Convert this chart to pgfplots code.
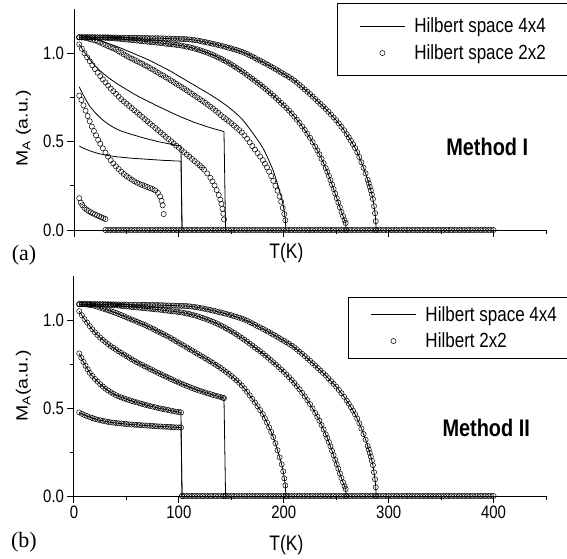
\documentclass[border=0pt]{standalone}
\usepackage{pgfplots}
\pgfplotsset{compat=1.18}
\usepackage{pgfplotstable}
\usepackage{graphicx}
\usepackage{fontspec}
\setmainfont{Liberation Sans}[FakeStretch=0.83]
\newfontfamily\rotfont{Liberation Sans}
\newfontfamily\serifab{Liberation Serif}

% 4x4 curves (lines); in Method II the 2x2 circles lie on them
\pgfplotstableread[row sep=\\]{
T M\\
5 0.475\\ 7.5 0.467\\ 10 0.460\\ 12.5 0.454\\ 15 0.448\\ 17.5 0.443\\ 20 0.438\\ 22.5 0.434\\
25 0.430\\ 27.5 0.427\\ 30 0.424\\ 32.5 0.421\\ 35 0.419\\ 37.5 0.417\\ 40 0.415\\ 42.5 0.413\\
45 0.412\\ 47.5 0.410\\ 50 0.409\\ 52.5 0.407\\ 55 0.406\\ 57.5 0.405\\ 60 0.404\\ 62.5 0.403\\
65 0.402\\ 67.5 0.401\\ 70 0.400\\ 72.5 0.399\\ 75 0.398\\ 77.5 0.397\\ 80 0.396\\ 82.5 0.395\\
85 0.394\\ 87.5 0.393\\ 90 0.393\\ 92.5 0.392\\ 95 0.391\\ 97.5 0.390\\ 100 0.390\\ 102 0.389\\
103 0\\
}\la
\pgfplotstableread[row sep=\\]{
T M\\
5 0.81\\ 7 0.785\\ 9 0.762\\ 11 0.74\\ 13 0.72\\ 15 0.70\\ 17.5 0.682\\ 20 0.665\\ 22.5 0.65\\
25 0.635\\ 27.5 0.622\\ 30 0.61\\ 32.5 0.60\\ 35 0.59\\ 37.5 0.581\\ 40 0.573\\ 42.5 0.566\\
45 0.56\\ 47.5 0.555\\ 50 0.55\\ 52.5 0.545\\ 55 0.54\\ 57.5 0.536\\ 60 0.532\\ 62.5 0.527\\
65 0.523\\ 67.5 0.519\\ 70 0.515\\ 72.5 0.511\\ 75 0.508\\ 77.5 0.504\\ 80 0.50\\ 82.5 0.497\\
85 0.494\\ 87.5 0.491\\ 90 0.488\\ 92.5 0.485\\ 95 0.482\\ 97.5 0.479\\ 100 0.477\\ 102 0.475\\
103 0\\
}\lb
\pgfplotstableread[row sep=\\]{
T M\\
5 1.05\\ 7.5 1.027\\ 10 1.005\\ 12.5 0.985\\ 15 0.965\\ 17.5 0.947\\ 20 0.93\\ 22.5 0.915\\
25 0.90\\ 27.5 0.887\\ 30 0.875\\ 32.5 0.863\\ 35 0.852\\ 37.5 0.842\\ 40 0.832\\ 42.5 0.822\\
45 0.813\\ 47.5 0.804\\ 50 0.795\\ 52.5 0.786\\ 55 0.777\\ 57.5 0.768\\ 60 0.76\\ 62.5 0.752\\
65 0.745\\ 67.5 0.737\\ 70 0.73\\ 72.5 0.722\\ 75 0.715\\ 77.5 0.707\\ 80 0.70\\ 82.5 0.693\\
85 0.686\\ 87.5 0.679\\ 90 0.672\\ 92.5 0.665\\ 95 0.658\\ 97.5 0.651\\ 100 0.645\\ 102.5 0.638\\
105 0.632\\ 107.5 0.626\\ 110 0.62\\ 112.5 0.614\\ 115 0.608\\ 117.5 0.603\\ 120 0.598\\ 122.5 0.593\\
125 0.588\\ 127.5 0.583\\ 130 0.579\\ 132.5 0.574\\ 135 0.57\\ 137.5 0.566\\ 140 0.562\\ 142 0.558\\
143 0.556\\ 144.5 0\\
}\lc
\pgfplotstableread[row sep=\\]{
T M\\
5 1.09\\ 7.5 1.09\\ 10 1.09\\ 12.5 1.088\\ 15 1.085\\ 17.5 1.083\\ 20 1.08\\ 22.5 1.075\\
25 1.07\\ 27.5 1.065\\ 30 1.06\\ 32.5 1.055\\ 35 1.05\\ 37.5 1.045\\ 40 1.04\\ 42.5 1.034\\
45 1.028\\ 47.5 1.022\\ 50 1.015\\ 52.5 1.009\\ 55 1.003\\ 57.5 0.997\\ 60 0.99\\ 62.5 0.984\\
65 0.978\\ 67.5 0.972\\ 70 0.965\\ 72.5 0.958\\ 75 0.95\\ 77.5 0.943\\ 80 0.935\\ 82.5 0.928\\
85 0.92\\ 87.5 0.913\\ 90 0.905\\ 92.5 0.897\\ 95 0.888\\ 97.5 0.879\\ 100 0.87\\ 102.5 0.862\\
105 0.853\\ 107.5 0.844\\ 110 0.835\\ 112.5 0.827\\ 115 0.818\\ 117.5 0.809\\ 120 0.80\\ 122.5 0.792\\
125 0.783\\ 127.5 0.774\\ 130 0.765\\ 132.5 0.756\\ 135 0.746\\ 137.5 0.737\\ 140 0.727\\ 142.5 0.716\\
145 0.705\\ 147.5 0.694\\ 150 0.682\\ 152.5 0.67\\ 155 0.657\\ 157.5 0.643\\ 160 0.628\\ 162.5 0.611\\
165 0.592\\ 167.5 0.572\\ 170 0.552\\ 172.5 0.531\\ 175 0.51\\ 177.5 0.488\\ 180 0.465\\ 182 0.442\\
184 0.417\\ 186 0.39\\ 188 0.364\\ 190 0.335\\ 192 0.30\\ 194 0.26\\ 196 0.22\\ 198 0.18\\
199.5 0.14\\ 200.5 0.10\\ 201.5 0.06\\ 202 0\\
}\ld
\pgfplotstableread[row sep=\\]{
T M\\
5 1.09\\ 7.5 1.09\\ 10 1.09\\ 12.5 1.09\\ 15 1.09\\ 17.5 1.09\\ 20 1.089\\ 22.5 1.089\\
25 1.088\\ 27.5 1.088\\ 30 1.087\\ 32.5 1.086\\ 35 1.085\\ 37.5 1.084\\ 40 1.083\\ 42.5 1.082\\
45 1.08\\ 47.5 1.079\\ 50 1.077\\ 52.5 1.076\\ 55 1.074\\ 57.5 1.073\\ 60 1.071\\ 62.5 1.07\\
65 1.068\\ 67.5 1.067\\ 70 1.065\\ 72.5 1.064\\ 75 1.062\\ 77.5 1.061\\ 80 1.059\\ 82.5 1.058\\
85 1.056\\ 87.5 1.054\\ 90 1.052\\ 92.5 1.051\\ 95 1.049\\ 97.5 1.047\\ 100 1.045\\ 102.5 1.043\\
105 1.04\\ 107.5 1.037\\ 110 1.034\\ 112.5 1.03\\ 115 1.026\\ 117.5 1.022\\ 120 1.017\\ 122.5 1.012\\
125 1.007\\ 127.5 1.002\\ 130 0.996\\ 132.5 0.99\\ 135 0.983\\ 137.5 0.976\\ 140 0.969\\ 142.5 0.961\\
145 0.953\\ 147.5 0.945\\ 150 0.936\\ 152.5 0.927\\ 155 0.918\\ 157.5 0.908\\ 160 0.898\\ 162.5 0.888\\
165 0.877\\ 167.5 0.866\\ 170 0.855\\ 172.5 0.844\\ 175 0.833\\ 177.5 0.822\\ 180 0.81\\ 182.5 0.798\\
185 0.786\\ 187.5 0.773\\ 190 0.76\\ 192.5 0.747\\ 195 0.733\\ 197.5 0.719\\ 200 0.705\\ 202.5 0.69\\
205 0.675\\ 207.5 0.659\\ 210 0.642\\ 212.5 0.624\\ 215 0.606\\ 217.5 0.586\\ 220 0.566\\ 222.5 0.544\\
225 0.522\\ 227.5 0.497\\ 230 0.472\\ 232 0.45\\ 234 0.428\\ 236 0.403\\ 238 0.378\\ 240 0.35\\
241.5 0.329\\ 243 0.306\\ 244.5 0.282\\ 246 0.257\\ 247.5 0.232\\ 249 0.206\\ 250.5 0.18\\ 252 0.155\\
253.5 0.128\\ 255 0.102\\ 256.5 0.078\\ 258 0.055\\ 259 0.04\\ 259.5 0\\
}\le
\pgfplotstableread[row sep=\\]{
T M\\
5 1.09\\ 7.5 1.09\\ 10 1.09\\ 12.5 1.09\\ 15 1.09\\ 17.5 1.09\\ 20 1.09\\ 22.5 1.09\\
25 1.09\\ 27.5 1.09\\ 30 1.09\\ 32.5 1.09\\ 35 1.089\\ 37.5 1.089\\ 40 1.089\\ 42.5 1.088\\
45 1.088\\ 47.5 1.088\\ 50 1.088\\ 52.5 1.087\\ 55 1.087\\ 57.5 1.087\\ 60 1.087\\ 62.5 1.086\\
65 1.086\\ 67.5 1.086\\ 70 1.086\\ 72.5 1.085\\ 75 1.085\\ 77.5 1.085\\ 80 1.085\\ 82.5 1.084\\
85 1.084\\ 87.5 1.083\\ 90 1.083\\ 92.5 1.082\\ 95 1.082\\ 97.5 1.081\\ 100 1.081\\ 102.5 1.08\\
105 1.08\\ 107.5 1.079\\ 110 1.078\\ 112.5 1.076\\ 115 1.074\\ 117.5 1.072\\ 120 1.069\\ 122.5 1.066\\
125 1.063\\ 127.5 1.06\\ 130 1.057\\ 132.5 1.053\\ 135 1.05\\ 137.5 1.046\\ 140 1.043\\ 142.5 1.039\\
145 1.035\\ 147.5 1.031\\ 150 1.027\\ 152.5 1.022\\ 155 1.018\\ 157.5 1.013\\ 160 1.008\\ 162.5 1.002\\
165 0.996\\ 167.5 0.988\\ 170 0.981\\ 172.5 0.973\\ 175 0.965\\ 177.5 0.958\\ 180 0.95\\ 182.5 0.942\\
185 0.934\\ 187.5 0.926\\ 190 0.917\\ 192.5 0.909\\ 195 0.90\\ 197.5 0.891\\ 200 0.882\\ 202.5 0.874\\
205 0.865\\ 207.5 0.855\\ 210 0.845\\ 212.5 0.833\\ 215 0.82\\ 217.5 0.808\\ 220 0.795\\ 222.5 0.782\\
225 0.769\\ 227.5 0.755\\ 230 0.741\\ 232.5 0.727\\ 235 0.713\\ 237.5 0.699\\ 240 0.685\\ 242.5 0.669\\
245 0.653\\ 247.5 0.637\\ 250 0.621\\ 252.5 0.603\\ 255 0.584\\ 257.5 0.564\\ 260 0.542\\ 262 0.524\\
264 0.505\\ 266 0.485\\ 268 0.464\\ 270 0.44\\ 272 0.413\\ 274 0.383\\ 276 0.352\\ 278 0.32\\
280 0.284\\ 281 0.265\\ 282 0.245\\ 283 0.224\\ 284 0.2\\ 285 0.175\\ 286 0.135\\ 287 0.095\\
287.7 0.05\\ 288 0\\
}\lf

% Method I, 2x2 circles that leave the lines
\pgfplotstableread[row sep=\\]{
T M\\
5 0.18\\ 6.5 0.155\\ 8 0.14\\ 10 0.125\\ 12 0.115\\ 14 0.107\\ 16 0.100\\ 18 0.094\\
20 0.088\\ 22 0.083\\ 24 0.078\\ 26 0.072\\ 28 0.067\\ 30 0.062\\
}\ca
\pgfplotstableread[row sep=\\]{
T M\\
5 0.76\\ 7 0.735\\ 9 0.705\\ 11 0.675\\ 13 0.645\\ 15 0.615\\ 17 0.585\\ 19 0.56\\
21 0.535\\ 23 0.51\\ 25 0.488\\ 27.5 0.462\\ 30 0.438\\ 32.5 0.415\\ 35 0.395\\ 37.5 0.377\\
40 0.36\\ 42.5 0.345\\ 45 0.33\\ 47.5 0.317\\ 50 0.305\\ 52.5 0.295\\ 55 0.285\\ 57.5 0.276\\
60 0.268\\ 62.5 0.261\\ 65 0.255\\ 67.5 0.249\\ 70 0.243\\ 72.5 0.237\\ 75 0.232\\ 77.5 0.224\\
80 0.21\\ 82 0.19\\ 83.5 0.165\\ 84.5 0.14\\ 85.5 0.09\\
}\cb
\pgfplotstableread[row sep=\\]{
T M\\
5 1.05\\ 7.5 1.025\\ 10 1.0\\ 12.5 0.977\\ 15 0.955\\ 17.5 0.932\\ 20 0.91\\ 22.5 0.89\\
25 0.87\\ 27.5 0.852\\ 30 0.835\\ 32.5 0.817\\ 35 0.80\\ 37.5 0.785\\ 40 0.77\\ 42.5 0.755\\
45 0.74\\ 47.5 0.727\\ 50 0.715\\ 52.5 0.702\\ 55 0.69\\ 57.5 0.677\\ 60 0.665\\ 62.5 0.652\\
65 0.64\\ 67.5 0.627\\ 70 0.615\\ 72.5 0.602\\ 75 0.59\\ 77.5 0.577\\ 80 0.565\\ 82.5 0.552\\
85 0.54\\ 87.5 0.527\\ 90 0.515\\ 92.5 0.502\\ 95 0.49\\ 97.5 0.477\\ 100 0.465\\ 102.5 0.452\\
105 0.44\\ 107.5 0.427\\ 110 0.415\\ 112.5 0.402\\ 115 0.39\\ 117.5 0.377\\ 120 0.365\\ 122 0.354\\
124 0.342\\ 127 0.32\\ 130 0.295\\ 132 0.275\\ 134 0.252\\ 136 0.226\\ 138 0.198\\ 139.5 0.172\\
140.5 0.148\\ 141.5 0.12\\ 142.3 0.092\\ 143 0.06\\
}\cc
\pgfplotstableread[row sep=\\]{
T M\\
5 1.09\\ 7.5 1.089\\ 10 1.088\\ 12.5 1.084\\ 15 1.08\\ 17.5 1.076\\ 20 1.072\\ 22.5 1.066\\
25 1.06\\ 27.5 1.053\\ 30 1.047\\ 32.5 1.04\\ 35 1.034\\ 37.5 1.027\\ 40 1.02\\ 42.5 1.011\\
45 1.003\\ 47.5 0.994\\ 50 0.985\\ 52.5 0.977\\ 55 0.97\\ 57.5 0.962\\ 60 0.955\\ 62.5 0.947\\
65 0.94\\ 67.5 0.932\\ 70 0.925\\ 72.5 0.916\\ 75 0.908\\ 77.5 0.899\\ 80 0.89\\ 82.5 0.881\\
85 0.873\\ 87.5 0.864\\ 90 0.855\\ 92.5 0.846\\ 95 0.837\\ 97.5 0.827\\ 100 0.818\\ 102.5 0.809\\
105 0.80\\ 107.5 0.79\\ 110 0.78\\ 112.5 0.77\\ 115 0.76\\ 117.5 0.75\\ 120 0.74\\ 122.5 0.73\\
125 0.72\\ 127.5 0.709\\ 130 0.698\\ 132.5 0.687\\ 135 0.675\\ 137.5 0.663\\ 140 0.65\\ 142.5 0.638\\
145 0.627\\ 147.5 0.616\\ 150 0.604\\ 152.5 0.591\\ 155 0.578\\ 157.5 0.565\\ 160 0.552\\ 162.5 0.535\\
165 0.516\\ 167.5 0.496\\ 170 0.475\\ 172.5 0.455\\ 175 0.435\\ 177.5 0.415\\ 180 0.395\\ 182 0.375\\
184 0.354\\ 186 0.33\\ 188 0.305\\ 190 0.278\\ 192 0.25\\ 194 0.222\\ 196 0.19\\ 197.5 0.16\\
199 0.125\\ 200.5 0.09\\ 201.5 0.055\\
}\cd

% circles lying on the T axis
\pgfplotstableread[row sep=\\]{
T M\\
30 0\\ 32.5 0\\ 35 0\\ 37.5 0\\ 40 0\\ 42.5 0\\ 45 0\\ 47.5 0\\ 50 0\\ 52.5 0\\
55 0\\ 57.5 0\\ 60 0\\ 62.5 0\\ 65 0\\ 67.5 0\\ 70 0\\ 72.5 0\\ 75 0\\ 77.5 0\\
80 0\\ 82.5 0\\ 85 0\\ 87.5 0\\ 90 0\\ 92.5 0\\ 95 0\\ 97.5 0\\ 100 0\\ 102.5 0\\
105 0\\ 107.5 0\\ 110 0\\ 112.5 0\\ 115 0\\ 117.5 0\\ 120 0\\ 122.5 0\\ 125 0\\ 127.5 0\\
130 0\\ 132.5 0\\ 135 0\\ 137.5 0\\ 140 0\\ 142.5 0\\ 145 0\\ 147.5 0\\ 150 0\\ 152.5 0\\
155 0\\ 157.5 0\\ 160 0\\ 162.5 0\\ 165 0\\ 167.5 0\\ 170 0\\ 172.5 0\\ 175 0\\ 177.5 0\\
180 0\\ 182.5 0\\ 185 0\\ 187.5 0\\ 190 0\\ 192.5 0\\ 195 0\\ 197.5 0\\ 200 0\\ 202.5 0\\
205 0\\ 207.5 0\\ 210 0\\ 212.5 0\\ 215 0\\ 217.5 0\\ 220 0\\ 222.5 0\\ 225 0\\ 227.5 0\\
230 0\\ 232.5 0\\ 235 0\\ 237.5 0\\ 240 0\\ 242.5 0\\ 245 0\\ 247.5 0\\ 250 0\\ 252.5 0\\
255 0\\ 257.5 0\\ 260 0\\ 262.5 0\\ 265 0\\ 267.5 0\\ 270 0\\ 272.5 0\\ 275 0\\ 277.5 0\\
280 0\\ 282.5 0\\ 285 0\\ 287.5 0\\ 290 0\\ 292.5 0\\ 295 0\\ 297.5 0\\ 300 0\\ 302.5 0\\
305 0\\ 307.5 0\\ 310 0\\ 312.5 0\\ 315 0\\ 317.5 0\\ 320 0\\ 322.5 0\\ 325 0\\ 327.5 0\\
330 0\\ 332.5 0\\ 335 0\\ 337.5 0\\ 340 0\\ 342.5 0\\ 345 0\\ 347.5 0\\ 350 0\\ 352.5 0\\
355 0\\ 357.5 0\\ 360 0\\ 362.5 0\\ 365 0\\ 367.5 0\\ 370 0\\ 372.5 0\\ 375 0\\ 377.5 0\\
380 0\\ 382.5 0\\ 385 0\\ 387.5 0\\ 390 0\\ 392.5 0\\ 395 0\\ 397.5 0\\ 400 0\\
}\zeroa
\pgfplotstableread[row sep=\\]{
T M\\
105 0\\ 107.5 0\\ 110 0\\ 112.5 0\\ 115 0\\ 117.5 0\\ 120 0\\ 122.5 0\\ 125 0\\ 127.5 0\\
130 0\\ 132.5 0\\ 135 0\\ 137.5 0\\ 140 0\\ 142.5 0\\ 145 0\\ 147.5 0\\ 150 0\\ 152.5 0\\
155 0\\ 157.5 0\\ 160 0\\ 162.5 0\\ 165 0\\ 167.5 0\\ 170 0\\ 172.5 0\\ 175 0\\ 177.5 0\\
180 0\\ 182.5 0\\ 185 0\\ 187.5 0\\ 190 0\\ 192.5 0\\ 195 0\\ 197.5 0\\ 200 0\\ 202.5 0\\
205 0\\ 207.5 0\\ 210 0\\ 212.5 0\\ 215 0\\ 217.5 0\\ 220 0\\ 222.5 0\\ 225 0\\ 227.5 0\\
230 0\\ 232.5 0\\ 235 0\\ 237.5 0\\ 240 0\\ 242.5 0\\ 245 0\\ 247.5 0\\ 250 0\\ 252.5 0\\
255 0\\ 257.5 0\\ 260 0\\ 262.5 0\\ 265 0\\ 267.5 0\\ 270 0\\ 272.5 0\\ 275 0\\ 277.5 0\\
280 0\\ 282.5 0\\ 285 0\\ 287.5 0\\ 290 0\\ 292.5 0\\ 295 0\\ 297.5 0\\ 300 0\\ 302.5 0\\
305 0\\ 307.5 0\\ 310 0\\ 312.5 0\\ 315 0\\ 317.5 0\\ 320 0\\ 322.5 0\\ 325 0\\ 327.5 0\\
330 0\\ 332.5 0\\ 335 0\\ 337.5 0\\ 340 0\\ 342.5 0\\ 345 0\\ 347.5 0\\ 350 0\\ 352.5 0\\
355 0\\ 357.5 0\\ 360 0\\ 362.5 0\\ 365 0\\ 367.5 0\\ 370 0\\ 372.5 0\\ 375 0\\ 377.5 0\\
380 0\\ 382.5 0\\ 385 0\\ 387.5 0\\ 390 0\\ 392.5 0\\ 395 0\\ 397.5 0\\ 400 0\\
}\zerob

\pgfplotsset{
  panel/.style={
    scale only axis, width=472pt,
    xmin=0, xmax=450, ymin=0, ymax=1.25,
    axis lines=left, axis line style={-, line width=1pt},
    xtick={0,100,200,300,400}, minor xtick={50,150,250,350,450},
    ytick={0,0.5,1}, minor ytick={0.25,0.75},
    tick align=outside, major tick length=6.5pt, minor tick length=4pt,
    tick style={black, line width=1pt},
    yticklabel style={/pgf/number format/fixed, /pgf/number format/fixed zerofill, /pgf/number format/precision=1},
    /pgf/number format/assume math mode=true,
    tick label style={font=\fontsize{18}{18}\selectfont},
    clip=false, legend cell align=left,
  },
  ln/.style={black, line width=0.8pt, no markers},
  cir/.style={only marks, mark=o, mark size=2.6pt, mark options={black, line width=0.5pt}},
  lnleg/.style={legend image code/.code={\draw[##1] (0pt,0pt) -- (45pt,0pt);}},
  cirleg/.style={legend image code/.code={\path (0pt,0pt) (45pt,0pt); \draw[##1] plot coordinates {(22.5pt,0pt)};}},
}

\begin{document}
\begin{tikzpicture}
\useasboundingbox (0,0) rectangle (567pt,558pt);

% (a) Method I
\begin{axis}[panel, height=221pt, at={(74pt,328pt)}, anchor=south west,
    xticklabels={},
    xlabel={T(K)},
    xlabel style={at={(axis description cs:0.45,0)}, anchor=center, yshift=-23pt, font=\fontsize{21}{21}\selectfont},
    ylabel={\scalebox{1}[0.83]{\rotfont\fontsize{19.5}{20}\selectfont M\textsubscript{A} (a.u.)}},
    ylabel style={at={(axis description cs:-0.107,0.459)}, anchor=center},
    legend style={at={(axis description cs:0.557,1.027)}, anchor=north west, draw=black, line width=1pt,
      font=\fontsize{20.5}{22}\selectfont, inner xsep=22pt, inner ysep=12.5pt, row sep=6.5pt},
  ]
  \addplot[ln, lnleg] table {\la};
  \addlegendentry{\hspace{7pt}Hilbert space 4x4\hspace{60pt}}
  \addplot[cir, cirleg] table {\cd};
  \addlegendentry{\hspace{7pt}Hilbert space 2x2}
  \addplot[ln, forget plot] table {\lb};
  \addplot[ln, forget plot] table {\lc};
  \addplot[ln, forget plot] table {\ld};
  \addplot[ln, forget plot] table {\le};
  \addplot[ln, forget plot] table {\lf};
  \addplot[cir, forget plot] table {\ca};
  \addplot[cir, forget plot] table {\cb};
  \addplot[cir, forget plot] table {\cc};
  \addplot[cir, forget plot] table {\le};
  \addplot[cir, forget plot] table {\lf};
  \addplot[cir, forget plot] table {\zeroa};
  \node[font=\fontsize{24}{24}\selectfont\bfseries] at (axis cs:394,0.47) {Method I};
  \node[font=\serifab\fontsize{22}{22}\selectfont] at (axis cs:-47.7,-0.141) {(a)};
\end{axis}

% (b) Method II
\begin{axis}[panel, height=220pt, at={(74pt,62pt)}, anchor=south west,
    xlabel={T(K)},
    xlabel style={at={(axis description cs:0.45,0)}, anchor=center, yshift=-49pt, font=\fontsize{21}{21}\selectfont},
    ylabel={\scalebox{1}[0.83]{\rotfont\fontsize{19.5}{20}\selectfont M\textsubscript{A}(a.u.)}},
    ylabel style={at={(axis description cs:-0.107,0.50)}, anchor=center},
    legend style={at={(axis description cs:0.5805,0.9045)}, anchor=north west, draw=black, line width=1pt,
      font=\fontsize{20.5}{22}\selectfont, inner xsep=22pt, inner ysep=7pt, row sep=6pt},
  ]
  \addplot[ln, lnleg] table {\la};
  \addlegendentry{\hspace{7pt}Hilbert space 4x4\hspace{60pt}}
  \addplot[cir, cirleg] table {\la};
  \addlegendentry{\hspace{7pt}Hilbert 2x2}
  \addplot[ln, forget plot] table {\lb};
  \addplot[ln, forget plot] table {\lc};
  \addplot[ln, forget plot] table {\ld};
  \addplot[ln, forget plot] table {\le};
  \addplot[ln, forget plot] table {\lf};
  \addplot[cir, forget plot] table {\lb};
  \addplot[cir, forget plot] table {\lc};
  \addplot[cir, forget plot] table {\ld};
  \addplot[cir, forget plot] table {\le};
  \addplot[cir, forget plot] table {\lf};
  \addplot[cir, forget plot] table {\zerob};
  \node[font=\fontsize{24}{24}\selectfont\bfseries] at (axis cs:393,0.386) {Method II};
  \node[font=\serifab\fontsize{22}{22}\selectfont] at (axis cs:-47.7,-0.261) {(b)};
\end{axis}
\end{tikzpicture}
\end{document}
